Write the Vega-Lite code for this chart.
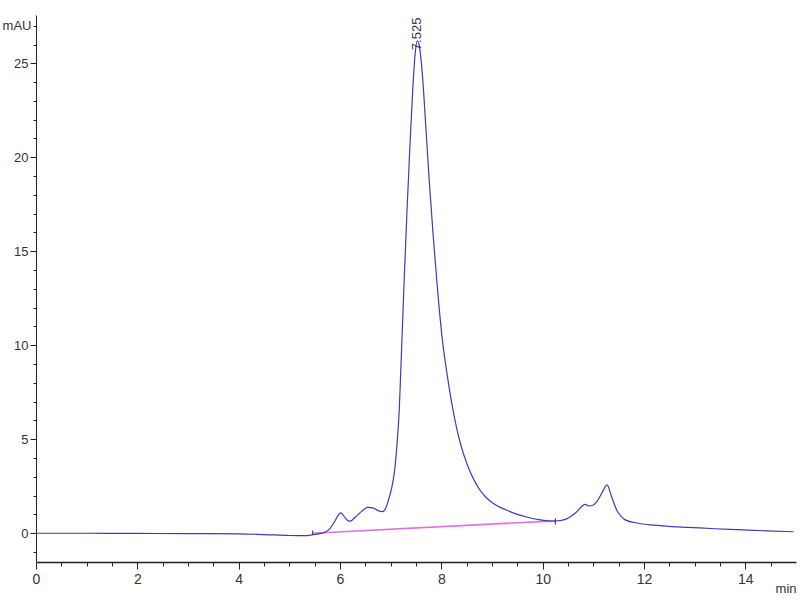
{
  "$schema": "https://vega.github.io/schema/vega-lite/v6.json",
  "autosize": {"type": "none"},
  "padding": {"left": 36, "top": 15, "right": 4, "bottom": 38},
  "width": 760,
  "height": 547,
  "background": "white",
  "config": {"view": {"stroke": null}, "font": "Liberation Sans Narrow, Liberation Sans"},
  "datasets": {
    "trace": [
      {"t": 0, "v": 0.0}, {"t": 1, "v": 0.0}, {"t": 2, "v": -0.01}, {"t": 3, "v": -0.02}, {"t": 4, "v": -0.03},
      {"t": 4.5, "v": -0.07}, {"t": 5.0, "v": -0.12}, {"t": 5.3, "v": -0.13}, {"t": 5.46, "v": -0.08},
      {"t": 5.6, "v": -0.02}, {"t": 5.7, "v": 0.05}, {"t": 5.8, "v": 0.25}, {"t": 5.9, "v": 0.65},
      {"t": 5.97, "v": 0.98}, {"t": 6.02, "v": 1.08}, {"t": 6.08, "v": 0.9}, {"t": 6.15, "v": 0.68},
      {"t": 6.2, "v": 0.64}, {"t": 6.3, "v": 0.85}, {"t": 6.42, "v": 1.15}, {"t": 6.55, "v": 1.38},
      {"t": 6.65, "v": 1.35}, {"t": 6.75, "v": 1.2}, {"t": 6.84, "v": 1.15}, {"t": 6.92, "v": 1.45},
      {"t": 6.97, "v": 1.9}, {"t": 7.02, "v": 2.4}, {"t": 7.08, "v": 3.4}, {"t": 7.13, "v": 4.9},
      {"t": 7.17, "v": 6.6}, {"t": 7.21, "v": 9.4}, {"t": 7.26, "v": 13.0}, {"t": 7.32, "v": 17.0},
      {"t": 7.38, "v": 20.6}, {"t": 7.44, "v": 23.8}, {"t": 7.49, "v": 25.7}, {"t": 7.525, "v": 26.2},
      {"t": 7.56, "v": 26.0}, {"t": 7.62, "v": 24.6}, {"t": 7.69, "v": 21.8}, {"t": 7.76, "v": 18.8},
      {"t": 7.84, "v": 15.8}, {"t": 7.93, "v": 12.8}, {"t": 8.02, "v": 10.3}, {"t": 8.1, "v": 8.7},
      {"t": 8.2, "v": 7.0}, {"t": 8.31, "v": 5.5}, {"t": 8.4, "v": 4.55}, {"t": 8.5, "v": 3.74},
      {"t": 8.6, "v": 3.08}, {"t": 8.7, "v": 2.56}, {"t": 8.8, "v": 2.16}, {"t": 8.9, "v": 1.86},
      {"t": 9.0, "v": 1.63}, {"t": 9.1, "v": 1.46}, {"t": 9.27, "v": 1.25}, {"t": 9.47, "v": 1.03},
      {"t": 9.7, "v": 0.85}, {"t": 9.92, "v": 0.72}, {"t": 10.1, "v": 0.66}, {"t": 10.24, "v": 0.65},
      {"t": 10.45, "v": 0.74}, {"t": 10.64, "v": 1.06}, {"t": 10.84, "v": 1.54}, {"t": 10.92, "v": 1.45},
      {"t": 11.0, "v": 1.5}, {"t": 11.07, "v": 1.68}, {"t": 11.18, "v": 2.2}, {"t": 11.27, "v": 2.57},
      {"t": 11.36, "v": 1.95}, {"t": 11.46, "v": 1.24}, {"t": 11.55, "v": 0.9}, {"t": 11.63, "v": 0.71},
      {"t": 11.89, "v": 0.53}, {"t": 12.2, "v": 0.43}, {"t": 12.55, "v": 0.35}, {"t": 12.87, "v": 0.31},
      {"t": 13.4, "v": 0.24}, {"t": 13.86, "v": 0.19}, {"t": 14.4, "v": 0.13}, {"t": 14.95, "v": 0.08}
    ],
    "baseline": [{"t": 5.46, "v": 0.0}, {"t": 10.25, "v": 0.66}],
    "marks": [{"t": 5.46, "lo": -0.1, "hi": 0.15}, {"t": 10.25, "lo": 0.45, "hi": 0.8}],
    "peak": [{"t": 7.525, "v": 25.7, "label": "7.525"}]
  },
  "encoding": {
    "x": {
      "field": "t", "type": "quantitative",
      "scale": {"domain": [0, 15], "nice": false, "zero": false},
      "axis": {
        "title": "min", "titleAnchor": "end", "titleAlign": "right", "titleX": 760, "titleY": 26,
        "titleFontSize": 13, "titleFontWeight": "normal", "titleColor": "#333333", "titleBaseline": "middle",
        "values": [0,0.5,1,1.5,2,2.5,3,3.5,4,4.5,5,5.5,6,6.5,7,7.5,8,8.5,9,9.5,10,10.5,11,11.5,12,12.5,13,13.5,14,14.5],
        "format": "~g",
        "labelExpr": "datum.value % 2 === 0 ? datum.label : ''",
        "labelOverlap": false, "labelFlush": false, "grid": false,
        "domainColor": "#222222", "domainWidth": 1.5, "tickColor": "#222222", "tickWidth": 1,
        "tickSize": {"condition": {"test": "datum.value % 2 === 0", "value": 7}, "value": 4},
        "labelFontSize": 14, "labelColor": "#333333", "labelPadding": 3
      }
    },
    "y": {
      "field": "v", "type": "quantitative",
      "scale": {"domain": [-1.53, 27.57], "nice": false, "zero": false},
      "axis": {
        "title": null,
        "values": [-1,0,1,2,3,4,5,6,7,8,9,10,11,12,13,14,15,16,17,18,19,20,21,22,23,24,25,26,27],
        "format": "~g",
        "labelExpr": "datum.value === 27 ? 'mAU' : (datum.value % 5 === 0 ? datum.label : '')",
        "labelOverlap": false, "labelFlush": false, "grid": false,
        "domainColor": "#222222", "domainWidth": 1, "tickColor": "#222222", "tickWidth": 1,
        "tickSize": {"condition": {"test": "datum.value % 5 === 0", "value": 6}, "value": 3},
        "labelFontSize": 13, "labelColor": "#333333", "labelPadding": 2
      }
    }
  },
  "layer": [
    {
      "data": {"name": "baseline"},
      "mark": {"type": "line", "color": "#e072dc", "strokeWidth": 1.6},
      "encoding": {}
    },
    {
      "data": {"name": "trace"},
      "mark": {"type": "line", "color": "#3d3db5", "strokeWidth": 1.2, "interpolate": "monotone"},
      "encoding": {}
    },
    {
      "data": {"name": "marks"},
      "mark": {"type": "rule", "color": "#333366", "strokeWidth": 1},
      "encoding": {"y": {"field": "lo", "type": "quantitative"}, "y2": {"field": "hi"}}
    },
    {
      "data": {"name": "peak"},
      "mark": {"type": "text", "angle": 270, "align": "left", "baseline": "middle", "fontSize": 13, "color": "#333344"},
      "encoding": {"text": {"field": "label"}}
    }
  ]
}
